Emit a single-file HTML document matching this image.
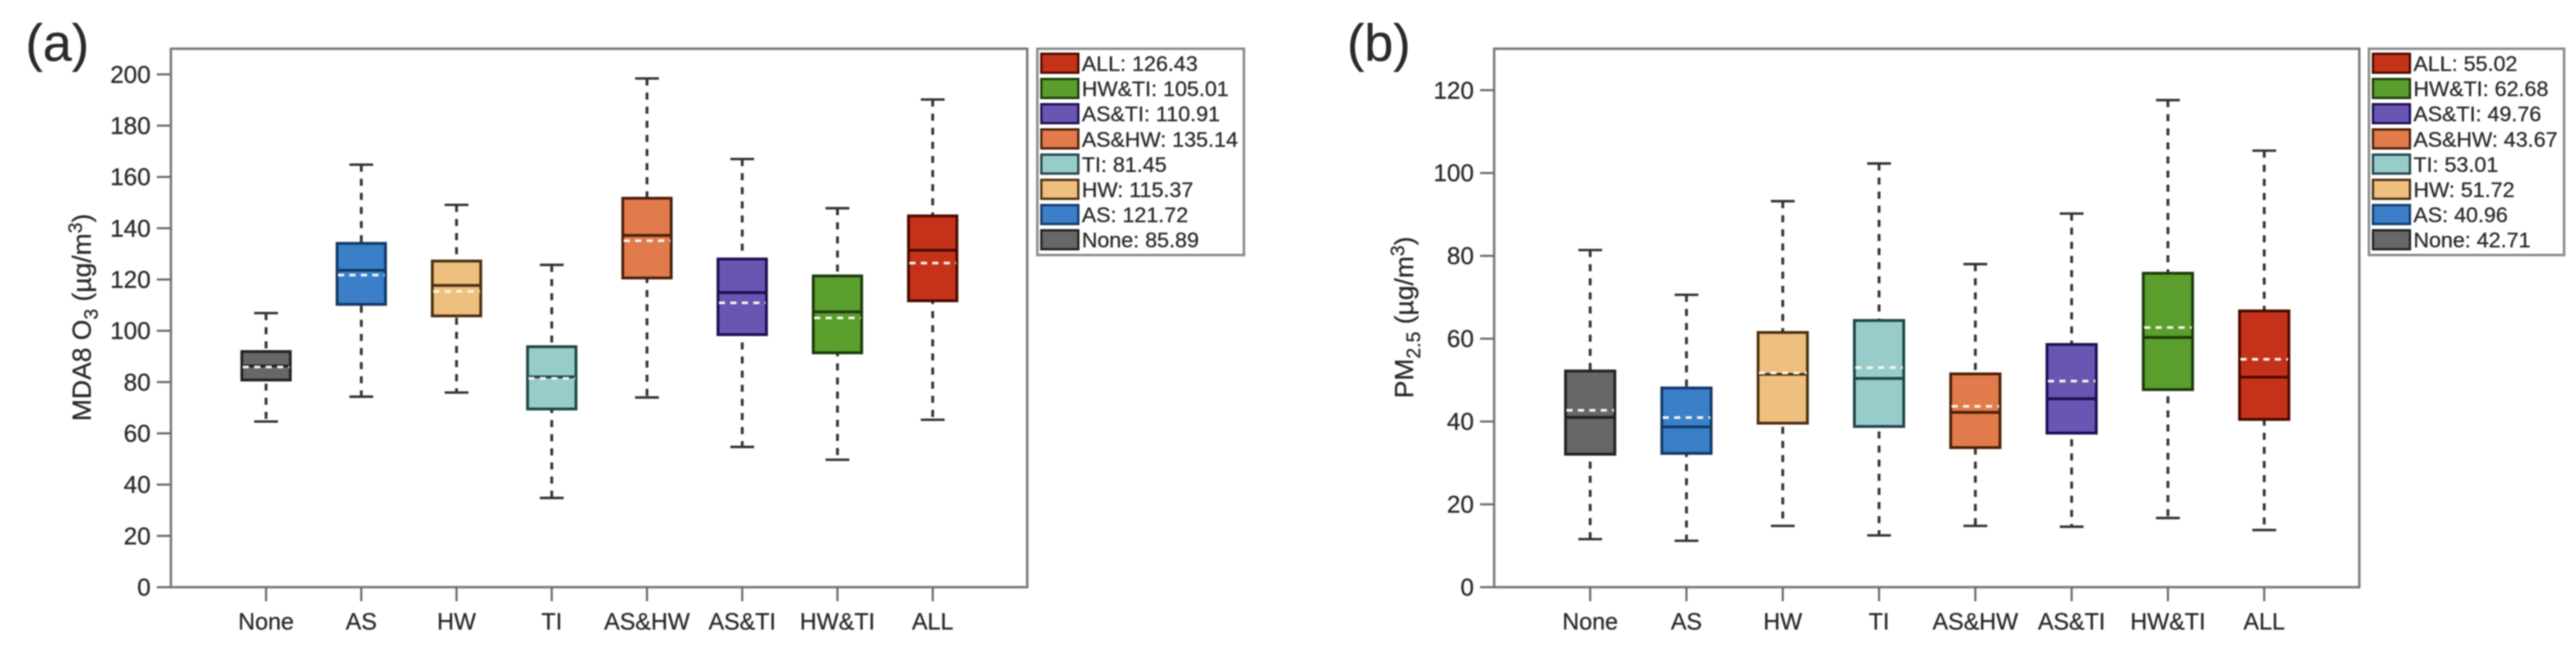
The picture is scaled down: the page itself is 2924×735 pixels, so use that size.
<!DOCTYPE html>
<html>
<head>
<meta charset="utf-8">
<style>
html,body{margin:0;padding:0;background:#fff;width:2924px;height:735px;overflow:hidden}
svg{display:block;filter:blur(0.8px)}
text{font-family:"Liberation Sans",sans-serif;fill:#2a2a2a;stroke:#2a2a2a;stroke-width:0.3px}
</style>
</head>
<body>
<svg id="chart" xmlns="http://www.w3.org/2000/svg" width="2924" height="735" viewBox="0 0 2924 735"></svg>
<script>
const categories = ["None","AS","HW","TI","AS&HW","AS&TI","HW&TI","ALL"];
const boxColors = ["#676767","#3b7fc9","#efbf80","#98cccb","#e17b4b","#6a55b2","#5a9e2e","#c5321a"];
const boxEdges = ["#222","#123a66","#4a3010","#1f4448","#4a2008","#1a1050","#1d3a0a","#4a0a00"];

const o3Ticks = [0,20,40,60,80,100,120,140,160,180,200];
const o3High = [106.9,164.8,149.1,125.7,198.4,167,147.8,190.2];
const o3Q3 = [91.9,134.1,127.2,93.8,151.7,128,121.4,144.8];
const o3Median = [86.3,123.6,117.7,82,137.2,114.9,107.4,131.4];
const o3Mean = [85.89,121.72,115.37,81.45,135.14,110.91,105.01,126.43];
const o3Q1 = [80.8,110.3,105.8,69.5,120.6,98.5,91.4,111.7];
const o3Low = [64.6,74.3,75.9,34.8,74,54.7,49.7,65.3];

const pmTicks = [0,20,40,60,80,100,120];
const pmHigh = [81.4,70.6,93.2,102.3,78,90.2,117.6,105.4];
const pmQ3 = [52.2,48.1,61.5,64.4,51.5,58.6,75.8,66.7];
const pmMedian = [41,38.7,51.4,50.4,42.2,45.5,60.3,50.7];
const pmMean = [42.71,40.96,51.72,53.01,43.67,49.76,62.68,55.02];
const pmQ1 = [32.1,32.3,39.6,38.8,33.7,37.2,47.7,40.5];
const pmLow = [11.6,11.2,14.8,12.5,14.8,14.6,16.7,13.8];

const svg = document.getElementById('chart');
const NS = 'http://www.w3.org/2000/svg';
function el(tag, attrs, parent){
  const e = document.createElementNS(NS, tag);
  for (const k in attrs) e.setAttribute(k, attrs[k]);
  (parent || svg).appendChild(e);
  return e;
}
function tspan(parent, str, dy, size){
  const t = document.createElementNS(NS, 'tspan');
  t.textContent = str;
  if (dy) t.setAttribute('dy', dy);
  if (size) t.setAttribute('font-size', size);
  parent.appendChild(t);
}

function drawPanel(p, d){
  const g = el('g', {});
  
  

  const yOf = v => p.bottom - (v / p.yMax) * (p.bottom - p.top);
  const xOf = i => p.x0 + p.dx * i;

  const tag = el('text', {x: p.tagX, y: 69, 'font-size': 59}, g);
  tag.textContent = p.tag;
  
  

  const frame = el('rect', {x: p.left, y: p.top, width: p.right - p.left, height: p.bottom - p.top, fill: '#fff', stroke: '#7a7a7a', 'stroke-width': 2.8}, g);
  
  

  d.ticks.forEach(v => {
    const y = yOf(v);
    const tick = el('line', {x1: p.left - 16, x2: p.left, y1: y, y2: y, stroke: '#6a6a6a', 'stroke-width': 2.4}, g);
    
    
    const lab = el('text', {x: p.left - 23, y: y + 9.5, 'text-anchor': 'end', 'font-size': 27.5}, g);
    lab.textContent = v;
    
    
  });

  const title = el('text', {transform: 'translate(' + p.titleX + ',' + p.titleY + ') rotate(-90)', 'text-anchor': 'middle', 'font-size': 30}, g);
  
  
  tspan(title, p.titleA);
  tspan(title, p.titleSub, 8, 22);
  tspan(title, ' (\u00b5g/m', -8, 30);
  tspan(title, '3', -10, 22);
  tspan(title, ')', 10, 30);

  categories.forEach((c, i) => {
    const x = xOf(i);
    const tick = el('line', {x1: x, x2: x, y1: p.bottom, y2: p.bottom + 16, stroke: '#6a6a6a', 'stroke-width': 2.4}, g);
    
    
    const lab = el('text', {x: x, y: 714, 'text-anchor': 'middle', 'font-size': 26.5}, g);
    lab.textContent = c;
    
    

    const bw = p.boxW, cw = p.capW;
    const whisk = el('line', {x1: x, x2: x, y1: yOf(d.high[i]), y2: yOf(d.low[i]), stroke: '#333', 'stroke-width': 3.2, 'stroke-dasharray': '8 8'}, g);
    
    
    [d.high[i], d.low[i]].forEach(v => {
      const cap = el('line', {x1: x - cw / 2, x2: x + cw / 2, y1: yOf(v), y2: yOf(v), stroke: '#333', 'stroke-width': 2.8}, g);
      
      
    });
    const box = el('rect', {x: x - bw / 2, y: yOf(d.q3[i]), width: bw, height: yOf(d.q1[i]) - yOf(d.q3[i]), fill: boxColors[i], stroke: boxEdges[i], 'stroke-width': 3.2}, g);
    
    
    const med = el('line', {x1: x - bw / 2, x2: x + bw / 2, y1: yOf(d.median[i]), y2: yOf(d.median[i]), stroke: boxEdges[i], 'stroke-width': 3.2}, g);
    
    
    const mean = el('line', {x1: x - bw / 2 + 1, x2: x + bw / 2 - 1, y1: yOf(d.mean[i]), y2: yOf(d.mean[i]), stroke: '#f6f6ea', 'stroke-width': 3, 'stroke-dasharray': '7 6'}, g);
    
    
  });

  const legH = 234;
  const leg = el('g', {}, g);
  
  
  const legBox = el('rect', {x: p.legL, y: p.top, width: p.legR - p.legL, height: legH, fill: '#fff', stroke: '#8a8a8a', 'stroke-width': 2.8}, leg);
  
  
  for (let r = 0; r < categories.length; r++) {
    const i = categories.length - 1 - r;
    const y = 61 + r * 28.6;
    const sw = el('rect', {x: p.legL + 4.5, y: y, width: 42, height: 21.5, fill: boxColors[i], stroke: boxEdges[i], 'stroke-width': 2.6}, leg);
    
    
    const t = el('text', {x: p.legL + 50.5, y: y + 19.5, 'font-size': 24.4}, leg);
    t.textContent = categories[i] + ': ' + d.mean[i].toFixed(2);
    
    
  }
}

drawPanel({id:'o3', tag:'(a)', tagX:29, left:194, right:1166, top:55.3, bottom:666, yMax:210, x0:302, dx:108.1, boxW:55, capW:27,
  titleX:103, titleY:360, titleA:'MDA8 O', titleSub:'3', legL:1177.5, legR:1412},
  {ticks:o3Ticks, high:o3High, q3:o3Q3, median:o3Median, mean:o3Mean, q1:o3Q1, low:o3Low});
drawPanel({id:'pm25', tag:'(b)', tagX:1529, left:1696, right:2678, top:55.3, bottom:666, yMax:130, x0:1805, dx:109.3, boxW:56, capW:27,
  titleX:1604, titleY:360, titleA:'PM', titleSub:'2.5', legL:2689, legR:2910.5},
  {ticks:pmTicks, high:pmHigh, q3:pmQ3, median:pmMedian, mean:pmMean, q1:pmQ1, low:pmLow});
</script>
</body>
</html>
